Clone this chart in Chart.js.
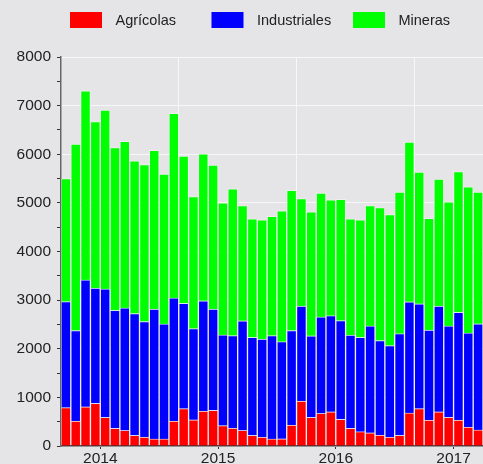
<!DOCTYPE html>
<html>
<head>
<meta charset="utf-8">
<script src="https://cdn.jsdelivr.net/npm/chart.js@4.4.1/dist/chart.umd.min.js"></script>
<style>
    html, body { margin: 0; padding: 0; background: #e5e5e7; }
    #chart-container { width: 483px; height: 464px; }
</style>
</head>
<body>
<div id="chart-container"><canvas id="graphCanvas"></canvas></div>
<script>
// monthly values, Sep 2013 - Mar 2017
var months = [
    '2013-09', '2013-10', '2013-11', '2013-12',
    '2014-01', '2014-02', '2014-03', '2014-04', '2014-05', '2014-06', '2014-07', '2014-08', '2014-09', '2014-10', '2014-11', '2014-12',
    '2015-01', '2015-02', '2015-03', '2015-04', '2015-05', '2015-06', '2015-07', '2015-08', '2015-09', '2015-10', '2015-11', '2015-12',
    '2016-01', '2016-02', '2016-03', '2016-04', '2016-05', '2016-06', '2016-07', '2016-08', '2016-09', '2016-10', '2016-11', '2016-12',
    '2017-01', '2017-02', '2017-03'
];
var agricolas = [790, 515, 805, 880, 590, 365, 320, 220, 185, 145, 145, 515, 770, 540, 720, 735,
    420, 370, 320, 220, 185, 145, 150, 430, 925, 590, 670, 705, 550, 365, 295, 270,
    225, 185, 220, 680, 770, 535, 705, 590, 535, 390, 330];
var industriales = [2180, 1860, 2610, 2370, 2640, 2425, 2520, 2505, 2375, 2670, 2365, 2530, 2165, 1875, 2265, 2080,
    1865, 1900, 2255, 2015, 2015, 2125, 1995, 1945, 1955, 1675, 1985, 1975, 2030, 1915, 1940, 2200,
    1945, 1880, 2090, 2285, 2155, 1850, 2175, 1880, 2215, 1935, 2185];
var mineras = [2530, 3835, 3890, 3420, 3680, 3345, 3425, 3140, 3225, 3265, 3080, 3795, 3025, 2715, 3025, 2960,
    2715, 3020, 2370, 2435, 2450, 2455, 2690, 2885, 2210, 2550, 2545, 2385, 2495, 2390, 2415, 2475,
    2735, 2695, 2910, 3285, 2710, 2295, 2610, 2550, 2895, 3005, 2705];
var yearLabels = ['2014', '2015', '2016', '2017'];

var fontFamily = '"Liberation Sans", Arial, Helvetica, sans-serif';

// year labels sit on the january boundary, white lines on september
var yearTicks = [];
var gridTicks = [];
for (let i = 0; i < months.length; i++) {
    if (months[i].endsWith('-01')) yearTicks.push(i);
    if (months[i].endsWith('-09') && i > 0) gridTicks.push(i);
}

function points(values) {
    return values.map(function (v, i) { return { x: i + 0.5, y: v }; });
}

var background = {
    id: 'background',
    beforeDraw: function (chart) {
        let c = chart.ctx;
        c.save();
        c.fillStyle = '#e5e5e7';
        c.fillRect(0, 0, chart.width, chart.height);
        c.restore();
    }
};

// legend in equal columns
var columnLegend = {
    id: 'columnLegend',
    afterDraw: function (chart) {
        let c = chart.ctx;
        c.save();
        c.font = '14.5px ' + fontFamily;
        c.textBaseline = 'middle';
        chart.data.datasets.forEach(function (ds, i) {
            let x = 70 + i * 141.5;
            c.fillStyle = ds.backgroundColor;
            c.fillRect(x, 12, 32, 16);
            c.fillStyle = '#222222';
            c.fillText(ds.label, x + 45.5, 20.5);
        });
        c.restore();
    }
};

var chartdata = {
    datasets: [
        { label: 'Agrícolas', data: points(agricolas), backgroundColor: '#ff0000' },
        { label: 'Industriales', data: points(industriales), backgroundColor: '#0000ff' },
        { label: 'Mineras', data: points(mineras), backgroundColor: '#00ff00' }
    ]
};

var barGraph = new Chart(document.getElementById('graphCanvas'), {
    type: 'bar',
    data: chartdata,
    options: {
        responsive: true,
        maintainAspectRatio: false,
        animation: false,
        layout: { padding: { top: 57, right: 0, left: 0, bottom: 0 } },
        datasets: {
            bar: {
                barPercentage: 1,
                categoryPercentage: 1,
                borderWidth: 1,
                borderColor: 'rgba(255,255,255,0.35)'
            }
        },
        plugins: {
            legend: { display: false },
            tooltip: { enabled: false }
        },
        scales: {
            x: {
                type: 'linear',
                stacked: true,
                offset: false,
                min: 0,
                max: months.length,
                afterBuildTicks: function (scale) {
                    scale.ticks = yearTicks.concat(gridTicks).sort(function (a, b) { return a - b; })
                        .map(function (v) { return { value: v }; });
                },
                afterFit: function (scale) { scale.height = 18; },
                ticks: {
                    autoSkip: false,
                    maxRotation: 0,
                    padding: 0,
                    color: '#222222',
                    font: { family: fontFamily, size: 15.5 },
                    callback: function (value) {
                        let k = yearTicks.indexOf(value);
                        return k >= 0 ? yearLabels[k] : '';
                    }
                },
                grid: {
                    offset: false,
                    lineWidth: 1,
                    tickLength: 3,
                    color: function (ctx) {
                        return ctx.tick && gridTicks.indexOf(ctx.tick.value) >= 0 ? '#f7f7f7' : 'rgba(0,0,0,0)';
                    },
                    tickColor: function (ctx) {
                        return ctx.tick && yearTicks.indexOf(ctx.tick.value) >= 0 ? '#333333' : 'rgba(0,0,0,0)';
                    }
                },
                border: { color: '#333333', width: 1.5 }
            },
            y: {
                stacked: true,
                min: 0,
                max: 8000,
                afterFit: function (scale) { scale.width = 61; },
                ticks: {
                    stepSize: 500,
                    padding: 6,
                    color: '#222222',
                    font: { family: fontFamily, size: 15.5 },
                    callback: function (value) { return value % 1000 === 0 ? value : ''; }
                },
                grid: {
                    lineWidth: 1,
                    tickLength: 4,
                    color: function (ctx) {
                        return ctx.tick && ctx.tick.value % 1000 === 0 ? '#f7f7f7' : 'rgba(0,0,0,0)';
                    },
                    tickColor: '#333333'
                },
                border: { color: '#666666', width: 1.5 }
            }
        }
    },
    plugins: [background, columnLegend]
});
</script>
</body>
</html>
